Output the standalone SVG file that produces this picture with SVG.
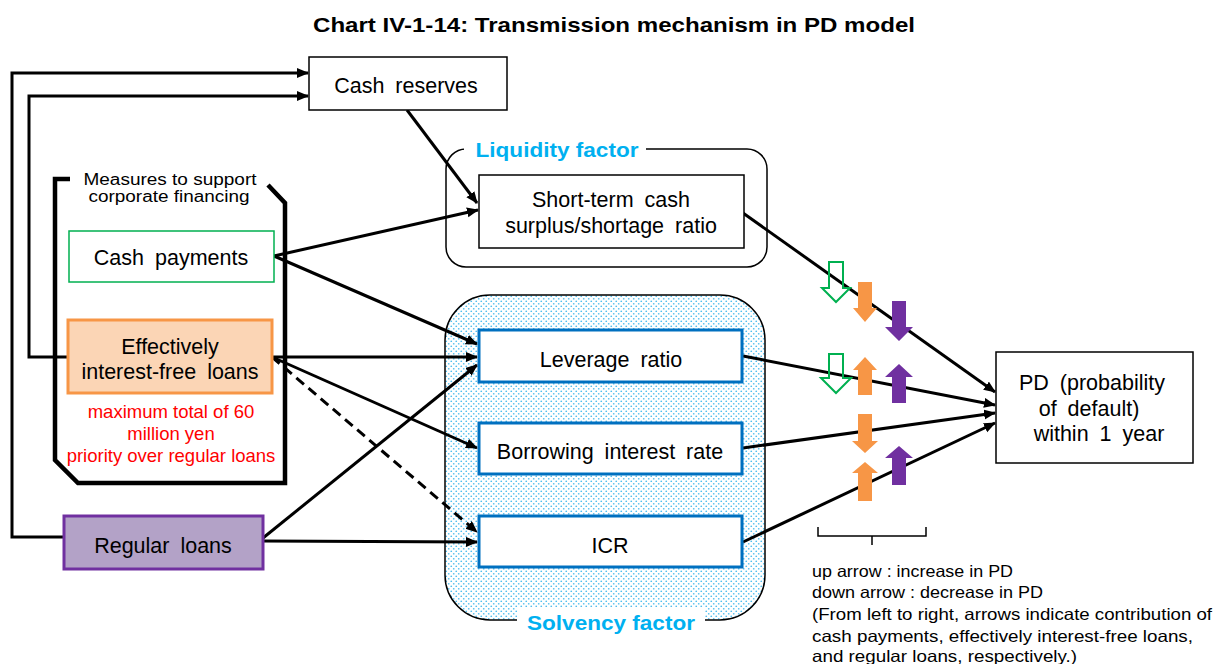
<svg xmlns="http://www.w3.org/2000/svg" width="1215" height="664" viewBox="0 0 1215 664">
<style>
text{font-family:"Liberation Sans",Arial,sans-serif;fill:#000}
.t{font-size:21.5px;text-anchor:middle;word-spacing:5px}
.s{font-size:16px;text-anchor:middle}
.r{font-size:18.5px;text-anchor:middle;fill:#FF0000}
.lab{font-size:21px;font-weight:bold;fill:#00B0F0;text-anchor:middle}
.leg{font-size:16.5px}
.box{fill:#fff;stroke:#000;stroke-width:1.5}
.blue{fill:#fff;stroke:#0070C0;stroke-width:3}
.ca{fill:none;stroke:#000;stroke-width:3;marker-end:url(#ah)}
.up-o{fill:#F79646}
.up-p{fill:#7030A0}
.up-g{fill:none;stroke:#00B050;stroke-width:2}
</style>
<defs>
<marker id="ah" markerUnits="userSpaceOnUse" markerWidth="14" markerHeight="12" refX="11" refY="5" orient="auto">
<path d="M0,0 L12,5 L0,10 Z" fill="#000"/>
</marker>
<pattern id="dots" width="5" height="5" patternUnits="userSpaceOnUse">
<rect width="5" height="5" fill="#fff"/>
<circle cx="1.25" cy="1.25" r="0.85" fill="#4DBDEE"/>
<circle cx="3.75" cy="3.75" r="0.85" fill="#4DBDEE"/>
</pattern>
</defs>
<rect width="1215" height="664" fill="#fff"/>
<text x="614" y="32" textLength="602" lengthAdjust="spacingAndGlyphs" style="font-size:21px;font-weight:bold;text-anchor:middle">Chart IV-1-14: Transmission mechanism in PD model</text>

<g id="liquidity-factor">
<rect x="446" y="149" width="321" height="118" rx="20" ry="20" fill="#fff" stroke="#000" stroke-width="1.5"/>
<rect x="464" y="137" width="182" height="24" fill="#fff"/>
<text class="lab" x="557" y="157" textLength="163" lengthAdjust="spacingAndGlyphs">Liquidity factor</text>
</g>
<g id="solvency-factor">
<rect x="445" y="295" width="320" height="325" rx="45" ry="45" fill="url(#dots)" stroke="#000" stroke-width="1.5"/>
<rect x="517" y="608" width="188" height="32" fill="#fff"/>
<text class="lab" x="611" y="630" textLength="168" lengthAdjust="spacingAndGlyphs">Solvency factor</text>
</g>
<g id="measures">
<path d="M70,179 H55 V460 L78,483 H285 V203 L268,185" fill="none" stroke="#000" stroke-width="4.5"/>
<text class="s" x="170" y="185" textLength="173" lengthAdjust="spacingAndGlyphs">Measures to support</text>
<text class="s" x="169" y="202" textLength="161" lengthAdjust="spacingAndGlyphs">corporate financing</text>
</g>

<g id="connectors">
<polyline class="ca" points="64,537 12,537 12,73 308,73"/>
<polyline class="ca" points="68,357 29,357 29,96 308,96"/>
<line class="ca" x1="407" y1="110" x2="477" y2="203"/>
<line class="ca" x1="274" y1="256" x2="478" y2="210"/>
<line class="ca" x1="274" y1="256" x2="477" y2="344"/>
<line class="ca" x1="272" y1="357" x2="477" y2="357"/>
<line class="ca" x1="272" y1="357" x2="477" y2="448"/>
<line class="ca" x1="272" y1="357" x2="477" y2="532" stroke-dasharray="10,6"/>
<line class="ca" x1="263" y1="538" x2="477" y2="365"/>
<line class="ca" x1="263" y1="541" x2="477" y2="542"/>
<line class="ca" x1="743" y1="213" x2="995" y2="392"/>
<line class="ca" x1="743" y1="356" x2="995" y2="405"/>
<line class="ca" x1="743" y1="448" x2="995" y2="413"/>
<line class="ca" x1="743" y1="542" x2="995" y2="423"/>
</g>

<g id="cash-reserves">
<rect class="box" x="309" y="57" width="198" height="53"/>
<text class="t" x="406" y="93">Cash reserves</text>
</g>
<g id="short-term">
<rect class="box" x="479" y="175" width="265" height="73"/>
<text class="t" x="611" y="207">Short-term cash</text>
<text class="t" x="611" y="233">surplus/shortage ratio</text>
</g>
<g id="cash-payments">
<rect x="69" y="231" width="205" height="51" fill="#fff" stroke="#00B050" stroke-width="1.5"/>
<text class="t" x="171" y="265">Cash payments</text>
</g>
<g id="effectively">
<rect x="68" y="320" width="204" height="73" fill="#FBD5B5" stroke="#F79646" stroke-width="3"/>
<text class="t" x="170" y="354">Effectively</text>
<text class="t" x="170" y="379">interest-free loans</text>
<text class="r" x="171" y="418">maximum total of 60</text>
<text class="r" x="171" y="440">million yen</text>
<text class="r" x="171" y="462">priority over regular loans</text>
</g>
<g id="regular-loans">
<rect x="64" y="516" width="199" height="53" fill="#B3A2C7" stroke="#7030A0" stroke-width="3"/>
<text class="t" x="163" y="553">Regular loans</text>
</g>
<g id="leverage">
<rect class="blue" x="479" y="330" width="263" height="52"/>
<text class="t" x="611" y="367">Leverage ratio</text>
</g>
<g id="borrowing">
<rect class="blue" x="479" y="423" width="263" height="51"/>
<text class="t" x="610" y="459">Borrowing interest rate</text>
</g>
<g id="icr">
<rect class="blue" x="479" y="516" width="263" height="51"/>
<text class="t" x="610" y="553">ICR</text>
</g>
<g id="pd">
<rect class="box" x="996" y="352" width="197" height="111"/>
<text class="t" x="1092" y="390">PD (probability</text>
<text class="t" x="1089" y="416">of default)</text>
<text class="t" x="1099" y="441">within 1 year</text>
</g>

<g id="indicators">
<path class="up-g" d="M829,262 H843 V288 H850 L836,302 L822,288 H829 Z"/>
<path class="up-o" d="M858,282 H872 V308 H877 L865,322 L853,308 H858 Z"/>
<path class="up-p" d="M892,301 H906 V327 H913 L899,341 L885,327 H892 Z"/>
<path class="up-g" d="M829,354 H843 V378 H851 L836,393 L821,378 H829 Z"/>
<path class="up-o" d="M865,357 L877,370 H872 V395 H858 V370 H853 Z"/>
<path class="up-p" d="M899,364 L913,377 H906 V403 H892 V377 H885 Z"/>
<path class="up-o" d="M858,414 H872 V441 H878 L865,453 L852,441 H858 Z"/>
<path class="up-o" d="M865,462 L878,473 H872 V501 H858 V473 H852 Z"/>
<path class="up-p" d="M899,446 L913,458 H906 V485 H892 V458 H885 Z"/>
</g>

<g id="legend">
<path d="M818,527 V536 H926 V527 M872,536 V545" fill="none" stroke="#000" stroke-width="1.5"/>
<text class="leg" x="812" y="577" textLength="201" lengthAdjust="spacingAndGlyphs">up arrow : increase in PD</text>
<text class="leg" x="812" y="598" textLength="231" lengthAdjust="spacingAndGlyphs">down arrow : decrease in PD</text>
<text class="leg" x="812" y="620" textLength="400" lengthAdjust="spacingAndGlyphs">(From left to right, arrows indicate contribution of</text>
<text class="leg" x="812" y="642" textLength="381" lengthAdjust="spacingAndGlyphs">cash payments, effectively interest-free loans,</text>
<text class="leg" x="812" y="662" textLength="265" lengthAdjust="spacingAndGlyphs">and regular loans, respectively.)</text>
</g>
</svg>
